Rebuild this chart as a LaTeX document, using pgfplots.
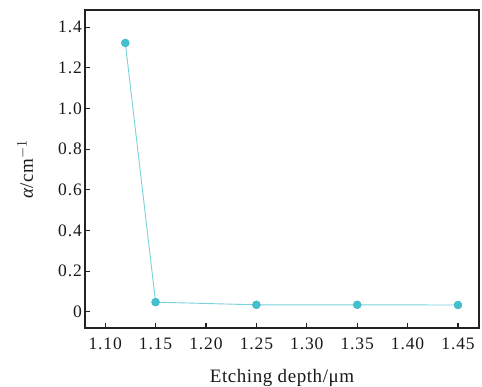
\documentclass[border=0pt]{standalone}
\usepackage{fontspec}
\setmainfont{Liberation Serif}
\usepackage{pgfplots}
\pgfplotsset{compat=1.18}
\definecolor{mk}{RGB}{66,192,206}
\definecolor{ln}{RGB}{120,210,220}
\definecolor{ax}{RGB}{35,35,35}
\begin{document}
\begin{tikzpicture}
\path[use as bounding box] (-85pt,-58pt) rectangle (397pt,328pt);
\begin{axis}[
  at={(0,0)}, anchor=south west,
  scale only axis, width=394pt, height=318pt,
  xmin=1.080, xmax=1.4708, ymin=-0.079, ymax=1.484,
  axis line style={ax, line width=1.1pt},
  tick style={ax, line width=1.1pt},
  tick align=inside, major tick length=5.5pt,
  xtick pos=left, ytick pos=left,
  xtick={1.10,1.15,1.20,1.25,1.30,1.35,1.40,1.45},
  xticklabels={1.10,1.15,1.20,1.25,1.30,1.35,1.40,1.45},
  ytick={0,0.2,0.4,0.6,0.8,1.0,1.2,1.4},
  yticklabels={0,0.2,0.4,0.6,0.8,1.0,1.2,1.4},
  ticklabel style={font=\fontsize{17.5}{19}\selectfont\addfontfeature{LetterSpace=5}, text=black!90},
  xticklabel style={anchor=base, yshift=-21pt},
  yticklabel style={anchor=east, inner sep=0pt, xshift=-3pt},
  label style={font=\fontsize{19}{21}\selectfont\addfontfeature{LetterSpace=3}, text=black!90},
  xlabel={Etching depth/μm},
  ylabel={{\itshape α}/cm$^{-1}$},
  xlabel style={at={(axis description cs:0.5,0)}, anchor=base, yshift=-54pt},
  ylabel style={at={(axis description cs:-0.152,0.5)}, anchor=center},
  /pgf/number format/assume math mode=true,
]
\addplot[color=ln, line width=0.9pt, mark=*, mark size=4pt, mark options={fill=mk, draw=mk!92!black, line width=0.4pt}]
coordinates {(1.12,1.322) (1.15,0.048) (1.25,0.035) (1.35,0.035) (1.45,0.034)};
\end{axis}
\end{tikzpicture}
\end{document}
